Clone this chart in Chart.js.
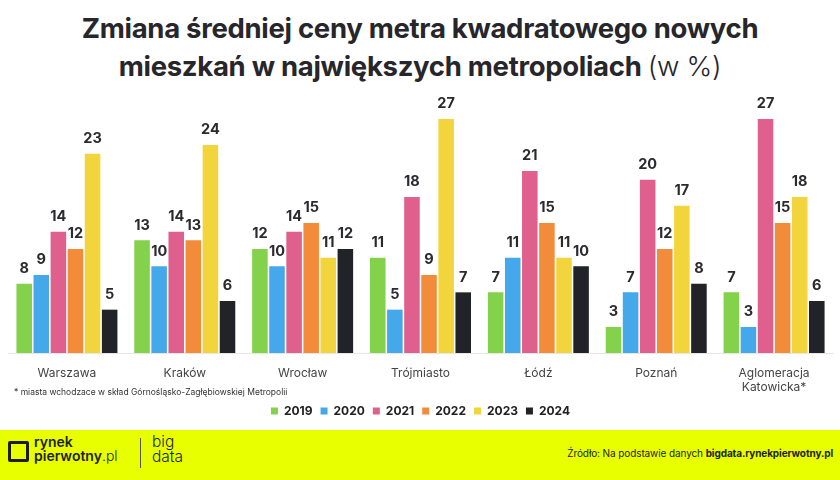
<!DOCTYPE html>
<html>
<head>
<meta charset="utf-8">
<script src="https://cdn.jsdelivr.net/npm/chart.js@4.4.0/dist/chart.umd.min.js"></script>
<style>
  body { margin: 0; width: 840px; height: 480px; background: #fff; overflow: hidden; position: relative; font-family: Inter, "Noto Sans", sans-serif; }
  #title { position: absolute; top: 9px; left: 0; width: 840px; text-align: center; font-size: 27.5px; line-height: 38px; font-weight: 700; color: #26262b; letter-spacing: -0.3px; }
  #title .light { font-weight: 300; }
  #chart { position: absolute; top: 0; left: 0; }
  #note { position: absolute; left: 14px; top: 387px; font-size: 8.5px; color: #333; }
  #footer { position: absolute; left: 0; top: 430px; width: 840px; height: 50px; background: #e8ff00; }
  #icon { position: absolute; left: 8px; top: 11px; width: 15px; height: 15px; border: 3px solid #1e1e1e; border-radius: 2px; }
  #brand { position: absolute; left: 34px; top: 5px; font-size: 14px; line-height: 14px; font-weight: 600; color: #1e1e1e; }
  #brand .pl { font-weight: 300; }
  #sep { position: absolute; left: 140px; top: 8px; width: 1px; height: 30px; background: #555; }
  #big { position: absolute; left: 152px; top: 4px; font-size: 15.5px; line-height: 15px; font-weight: 300; color: #1e1e1e; }
  #source { position: absolute; right: 7px; top: 17px; font-size: 10px; color: #1e1e1e; letter-spacing: -0.1px; }
</style>
</head>
<body>
<div id="title">Zmiana średniej ceny metra kwadratowego nowych<br>mieszkań w największych metropoliach <span class="light">(w %)</span></div>
<canvas id="chart" width="840" height="429"></canvas>
<div id="note">* miasta wchodzace w skład Górnośląsko-Zagłębiowskiej Metropolii</div>
<div id="footer">
  <div id="icon"></div>
  <div id="brand">rynek<br>pierwotny<span class="pl">.pl</span></div>
  <div id="sep"></div>
  <div id="big">big<br>data</div>
  <div id="source">Źródło: Na podstawie danych <b>bigdata.rynekpierwotny.pl</b></div>
</div>
<script>
// categories and yearly values (w %)
const cities = ["Warszawa", "Kraków", "Wrocław", "Trójmiasto", "Łódź", "Poznań", ["Aglomeracja", "Katowicka*"]];
const years = ["2019", "2020", "2021", "2022", "2023", "2024"];
const values2019 = [8, 13, 12, 11, 7, 3, 7];
const values2020 = [9, 10, 10, 5, 11, 7, 3];
const values2021 = [14, 14, 14, 18, 21, 20, 27];
const values2022 = [12, 13, 15, 9, 15, 12, 15];
const values2023 = [23, 24, 11, 27, 11, 17, 18];
const values2024 = [5, 6, 12, 7, 10, 8, 6];
const colors = ["#84d14c", "#45a8ea", "#e0608d", "#f28b3a", "#f2d43c", "#222329"];

const series = [values2019, values2020, values2021, values2022, values2023, values2024];

// draw value labels above bars
const valueLabels = {
  id: "valueLabels",
  afterDatasetsDraw(chart) {
    const ctx = chart.ctx;
    ctx.save();
    ctx.font = "700 14.5px Inter";
    ctx.fillStyle = "#2a2a2f";
    ctx.textAlign = "center";
    ctx.textBaseline = "middle";
    chart.data.datasets.forEach((ds, i) => {
      chart.getDatasetMeta(i).data.forEach((bar, j) => {
        ctx.fillText(ds.data[j], bar.x, bar.y - 15);
      });
    });
    ctx.restore();
  }
};

new Chart(document.getElementById("chart"), {
  type: "bar",
  data: {
    labels: cities,
    datasets: years.map((y, i) => ({
      label: y,
      data: series[i],
      backgroundColor: colors[i],
      categoryPercentage: 0.87,
      barPercentage: 0.91
    }))
  },
  options: {
    responsive: false,
    animation: false,
    layout: { padding: { top: 93, left: 8, right: 7, bottom: 2 } },
    scales: {
      x: {
        grid: { display: false },
        border: { display: true, color: "#e6e6e6" },
        ticks: { color: "#444", font: { family: "Inter", size: 12 }, padding: 5, maxRotation: 0 },
        afterFit(scale) { scale.height = 44; }
      },
      y: { display: false, min: 0, max: 30 }
    },
    plugins: {
      legend: {
        position: "bottom",
        labels: {
          boxWidth: 7,
          boxHeight: 7,
          padding: 8,
          color: "#222",
          font: { family: "Inter", size: 12, weight: "700" }
        }
      },
      tooltip: { enabled: false }
    }
  },
  plugins: [valueLabels]
});
</script>
</body>
</html>
